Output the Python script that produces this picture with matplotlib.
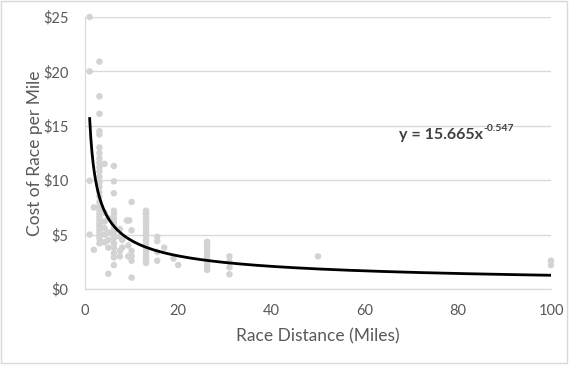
import numpy as np
import matplotlib
matplotlib.use("Agg")
import matplotlib.pyplot as plt
from matplotlib.patches import Rectangle

plt.rcParams['font.family'] = ['Lato', 'DejaVu Sans']

# distances de course (miles) et coût par mile ($)
dist_1 = [1, 1, 1, 1]
cost_1 = [25.0, 20.0, 9.95, 5.0]
dist_2 = [1.9, 1.9]
cost_2 = [7.5, 3.6]
dist_5k = [3.1] * 29
cost_5k = [20.9, 17.7, 16.1, 14.5, 14.2, 13.0, 12.5, 12.0, 11.6, 11.2, 10.8, 10.3,
           9.8, 9.4, 8.9, 8.5, 8.0, 7.6, 7.2, 6.9, 6.6, 6.3, 6.0, 5.8, 5.5, 5.2,
           4.9, 4.6, 4.2]
dist_4 = [4.2] * 6
cost_4 = [11.5, 7.0, 6.2, 5.6, 5.0, 4.3]
dist_5 = [5] * 5
cost_5 = [6.5, 5.2, 4.5, 3.8, 1.4]
dist_10k = [6.2] * 17
cost_10k = [11.3, 9.9, 8.8, 7.2, 6.9, 6.5, 6.2, 5.9, 5.6, 5.3, 5.0, 4.7, 4.2,
            3.8, 3.3, 2.9, 2.2]
dist_7 = [7.5] * 4
cost_7 = [5.5, 4.8, 3.5, 3.0]
dist_8 = [8, 8]
cost_8 = [4.5, 3.8]
dist_15k = [9.0, 9.5, 9.3, 9.3]
cost_15k = [6.3, 6.3, 4.0, 3.0]
dist_10 = [10] * 6
cost_10 = [8.0, 5.4, 3.5, 3.0, 2.6, 1.05]
dist_half = [13.1] * 17
cost_half = [7.2, 6.9, 6.6, 6.3, 6.0, 5.7, 5.4, 5.1, 4.8, 4.5, 4.2, 3.9, 3.6,
             3.3, 3.0, 2.7, 2.4]
dist_25k = [15.5] * 4
cost_25k = [4.8, 4.4, 3.4, 2.6]
dist_20 = [17, 19, 20]
cost_20 = [3.8, 2.8, 2.2]
dist_mar = [26.2] * 10
cost_mar = [4.35, 4.1, 3.8, 3.5, 3.2, 2.9, 2.6, 2.3, 2.0, 1.75]
dist_50k = [31] * 4
cost_50k = [3.0, 2.5, 2.0, 1.35]
dist_ultra = [50, 100, 100]
cost_ultra = [3.0, 2.6, 2.2]

# courbe de tendance (puissance)
coef_a = 15.665
coef_b = -0.547

distances = np.array(dist_1 + dist_2 + dist_5k + dist_4 + dist_5 + dist_10k + dist_7 +
                     dist_8 + dist_15k + dist_10 + dist_half + dist_25k + dist_20 +
                     dist_mar + dist_50k + dist_ultra)
couts = np.array(cost_1 + cost_2 + cost_5k + cost_4 + cost_5 + cost_10k + cost_7 +
                 cost_8 + cost_15k + cost_10 + cost_half + cost_25k + cost_20 +
                 cost_mar + cost_50k + cost_ultra)

gris_texte = '#595959'
gris_grille = '#d9d9d9'

fig = plt.figure(figsize=(5.77, 3.79), dpi=100)
ax = fig.add_axes([85 / 577, 1 - 289 / 379, 466 / 577, 272 / 379])

ax.scatter(distances, couts, s=22, color='#d3d3d3', edgecolors='none',
           zorder=2, clip_on=False)

xs = np.linspace(1, 100, 400)
ax.plot(xs, coef_a * xs ** coef_b, color='black', lw=2, zorder=3)

ax.set_xlim(0, 100)
ax.set_ylim(0, 25)
ax.set_xticks(range(0, 101, 20))
ax.set_yticks(range(0, 26, 5))
ax.set_yticklabels(['$%d' % v for v in range(0, 26, 5)])
ax.tick_params(length=0, labelsize=10.5, colors=gris_texte)
ax.tick_params(axis='x', pad=11)
ax.tick_params(axis='y', pad=12)
ax.grid(axis='y', color=gris_grille, lw=1, zorder=0)
ax.set_axisbelow(True)
for s in ['top', 'right']:
    ax.spines[s].set_visible(False)
for s in ['left', 'bottom']:
    ax.spines[s].set_color(gris_grille)

ax.set_xlabel('Race Distance (Miles)', fontsize=12.5, color=gris_texte, labelpad=7)
ax.set_ylabel('Cost of Race per Mile', fontsize=12.5, color=gris_texte, labelpad=0)

# équation de la tendance
eq = ax.text(67.4, 14.2, 'y = %.3fx' % coef_a, fontsize=11.5,
             fontweight='bold', color='#404040', ha='left', va='center')
ax.annotate('-%.3f' % abs(coef_b), xy=(1, 0.62), xycoords=eq, fontsize=7.5,
            fontweight='bold', color='#404040', ha='left', va='bottom')

fig.patches.append(Rectangle((0.5 / 577, 1 - 363 / 379), 566 / 577, 362 / 379,
                             transform=fig.transFigure, fill=False,
                             edgecolor=gris_grille, lw=1))

fig.savefig('out.png', dpi=100, facecolor='white')
